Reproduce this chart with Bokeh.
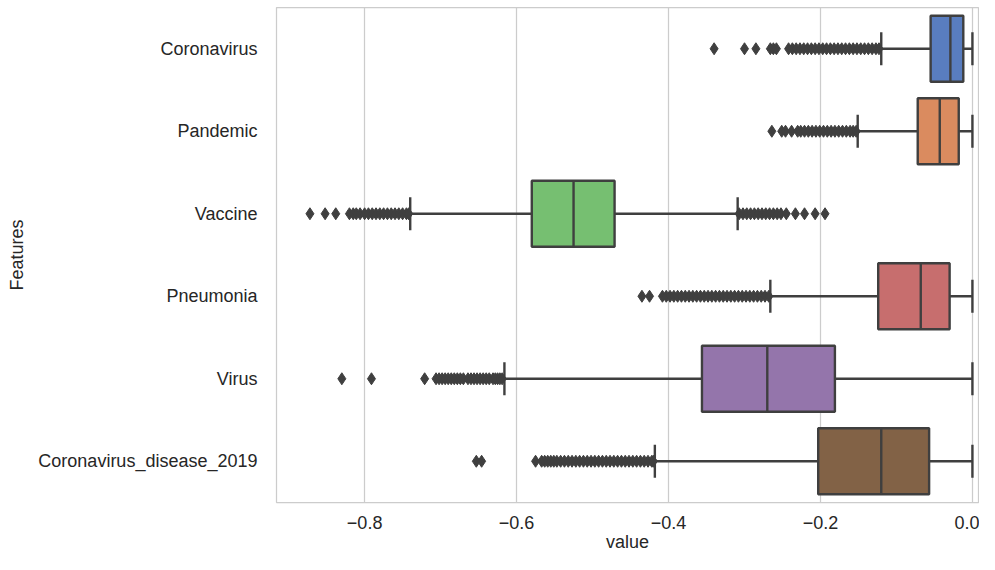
from bokeh.plotting import figure
from bokeh.models import Range1d, FixedTicker, ColumnDataSource
from bokeh.embed import file_html
from bokeh.resources import INLINE

# ---------------- data ----------------
categories = ["Coronavirus", "Pandemic", "Vaccine", "Pneumonia", "Virus", "Coronavirus_disease_2019"]
box_colors = ["#597dbf", "#da8b5f", "#76bf71", "#c76e6e", "#9475ab", "#826246"]
q1 = [-0.055, -0.072, -0.580, -0.124, -0.356, -0.203]
median = [-0.029, -0.043, -0.525, -0.068, -0.270, -0.120]
q3 = [-0.012, -0.018, -0.471, -0.030, -0.181, -0.057]
whisker_low = [-0.120, -0.151, -0.740, -0.266, -0.616, -0.418]
whisker_high = [0.0, 0.0, -0.309, 0.0, 0.0, 0.0]

outliers_coronavirus = [-0.340, -0.300, -0.285, -0.266, -0.262, -0.258,
                        -0.242, -0.237, -0.232, -0.227, -0.222, -0.217, -0.212, -0.207,
                        -0.202, -0.197, -0.192, -0.187, -0.182, -0.177, -0.172, -0.167,
                        -0.162, -0.157, -0.152, -0.147, -0.142, -0.137, -0.132, -0.127, -0.123]
outliers_pandemic = [-0.264, -0.251, -0.246, -0.238, -0.230, -0.226, -0.221, -0.216,
                     -0.211, -0.206, -0.201, -0.196, -0.191, -0.186, -0.181, -0.176,
                     -0.171, -0.166, -0.161, -0.157, -0.153]
outliers_vaccine = [-0.872, -0.852, -0.838, -0.820, -0.815, -0.811, -0.806, -0.800,
                    -0.795, -0.790, -0.785, -0.780, -0.775, -0.770, -0.765, -0.760,
                    -0.755, -0.750, -0.745, -0.742,
                    -0.307, -0.302, -0.297, -0.292, -0.287, -0.282, -0.277, -0.272,
                    -0.267, -0.262, -0.257, -0.252, -0.245, -0.233, -0.221, -0.207, -0.194]
outliers_pneumonia = [-0.435, -0.425, -0.408, -0.403, -0.398, -0.393, -0.388, -0.383,
                      -0.378, -0.373, -0.368, -0.363, -0.358, -0.353, -0.348, -0.343,
                      -0.338, -0.333, -0.328, -0.323, -0.318, -0.313, -0.308, -0.303,
                      -0.298, -0.293, -0.288, -0.283, -0.278, -0.273, -0.268]
outliers_virus = [-0.830, -0.791, -0.721, -0.706, -0.702, -0.698, -0.694, -0.690,
                  -0.686, -0.682, -0.678, -0.674, -0.670, -0.664, -0.660, -0.656,
                  -0.652, -0.648, -0.644, -0.640, -0.636, -0.631, -0.628, -0.625,
                  -0.622, -0.619]
outliers_covid2019 = [-0.653, -0.646, -0.575, -0.567, -0.563, -0.559, -0.555, -0.551,
                      -0.547, -0.542, -0.537, -0.532, -0.527, -0.522, -0.517, -0.512,
                      -0.507, -0.502, -0.497, -0.492, -0.487, -0.482, -0.477, -0.472,
                      -0.467, -0.462, -0.457, -0.452, -0.447, -0.442, -0.437, -0.432,
                      -0.427, -0.422, -0.420]
outliers = [outliers_coronavirus, outliers_pandemic, outliers_vaccine,
            outliers_pneumonia, outliers_virus, outliers_covid2019]

x_ticks = [-0.8, -0.6, -0.4, -0.2, 0.0]
x_tick_labels = ["\u22120.8", "\u22120.6", "\u22120.4", "\u22120.2", "0.0"]

# ---------------- styling ----------------
FONT = "Liberation Sans"
TXT = "#262626"
EDGE = "#3f3f3f"
LW = 2.4
BOX_H = 0.8
CAP_H = 0.4

pos = list(range(len(categories)))

p = figure(width=979, height=554, output_backend="svg", toolbar_location=None,
           x_range=Range1d(-0.916, 0.008),
           y_range=Range1d(len(categories) - 0.5, -0.5),
           min_border_left=276, min_border_right=1, min_border_top=7, min_border_bottom=1)
p.background_fill_color = "white"
p.border_fill_color = "white"
p.outline_line_color = "#cccccc"
p.outline_line_width = 1.25

p.ygrid.grid_line_color = None
p.xgrid.grid_line_color = "#cccccc"
p.xgrid.grid_line_width = 1.25

p.xaxis.ticker = FixedTicker(ticks=x_ticks)
p.xaxis.major_label_overrides = dict(zip(x_ticks, x_tick_labels))
p.yaxis.ticker = FixedTicker(ticks=pos)
p.yaxis.major_label_overrides = dict(zip(pos, categories))

for ax in (p.xaxis, p.yaxis):
    ax.axis_line_color = None
    ax.major_tick_line_color = None
    ax.minor_tick_line_color = None
    ax.major_label_text_font = FONT
    ax.major_label_text_font_size = "18px"
    ax.major_label_text_color = TXT
    ax.axis_label_text_font = FONT
    ax.axis_label_text_font_size = "18px"
    ax.axis_label_text_color = TXT
    ax.axis_label_text_font_style = "normal"

p.xaxis.axis_label = "value"
p.yaxis.axis_label = "Features"
p.xaxis.major_label_standoff = 7
p.xaxis.axis_label_standoff = 0
p.yaxis.major_label_standoff = 13
p.yaxis.axis_label_standoff = 8

src = ColumnDataSource(dict(
    pos=pos,
    q1=q1, q3=q3, med=median, wlo=whisker_low, whi=whisker_high, color=box_colors,
    y_lo=[y - BOX_H / 2 for y in pos], y_hi=[y + BOX_H / 2 for y in pos],
    c_lo=[y - CAP_H / 2 for y in pos], c_hi=[y + CAP_H / 2 for y in pos],
))

# whiskers
p.segment(x0="wlo", y0="pos", x1="q1", y1="pos", source=src, line_color=EDGE, line_width=LW)
p.segment(x0="q3", y0="pos", x1="whi", y1="pos", source=src, line_color=EDGE, line_width=LW)
# caps
p.segment(x0="wlo", y0="c_lo", x1="wlo", y1="c_hi", source=src, line_color=EDGE, line_width=LW)
p.segment(x0="whi", y0="c_lo", x1="whi", y1="c_hi", source=src, line_color=EDGE, line_width=LW)

# outliers
ox, oy = [], []
for y, vals in zip(pos, outliers):
    ox.extend(vals)
    oy.extend([y] * len(vals))
p.scatter(x=ox, y=oy, marker="diamond", size=12, fill_color=EDGE, line_color=EDGE, line_width=1)

# boxes
p.hbar(y="pos", left="q1", right="q3", height=BOX_H, source=src,
       fill_color="color", line_color=EDGE, line_width=LW)
# medians
p.segment(x0="med", y0="y_lo", x1="med", y1="y_hi", source=src, line_color=EDGE, line_width=LW)

open("out.html", "w").write(file_html(p, INLINE))
